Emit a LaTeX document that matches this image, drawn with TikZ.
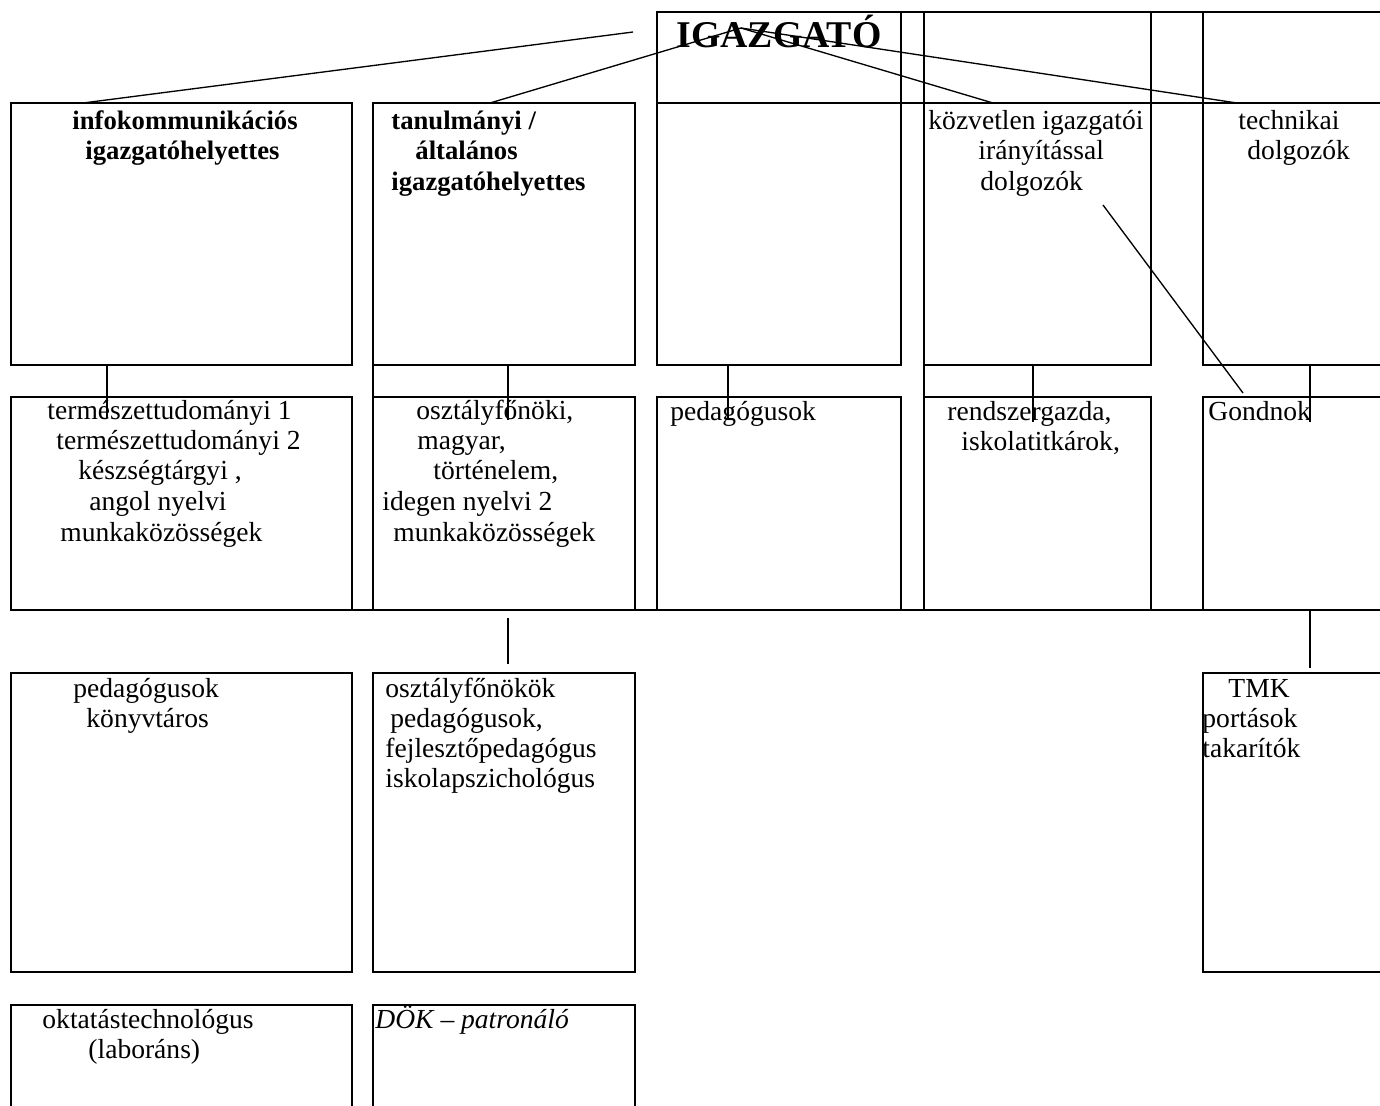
\documentclass[tikz,border=0pt]{standalone}
\usepackage{fontspec}
\setmainfont{Liberation Serif}
\usetikzlibrary{calc}

\tikzset{
    orgbox/.style={draw, line width=0.9pt, anchor=north west, inner sep=0pt, outer sep=0pt},
    orgline/.style={line width=0.9pt},
    link/.style={line width=0.6pt},
    txt/.style={anchor=base west, inner sep=0pt, font=\fontsize{12.4pt}{14pt}\selectfont},
    head/.style={anchor=base west, inner sep=0pt, font=\bfseries\fontsize{12pt}{14pt}\selectfont},
}

\begin{document}
\begin{tikzpicture}[x=0.45pt, y=-0.45pt]
    \useasboundingbox (0,0) rectangle (1380,1106);
    \clip (0,0) rectangle (1380,1106);

    % Top row (director cell and empty cells)
    \foreach \n/\l/\t/\r/\b in {boss/657/12/901/103, top2/901/12/924/103, top3/924/12/1151/103,
                                top4/1151/12/1203/103, top5/1203/12/1395/103}
        \node[orgbox, minimum width={(\r-\l)*0.45pt}, minimum height={(\b-\t)*0.45pt}] (\n) at (\l,\t) {};
    \node[anchor=base west, inner sep=0pt, font=\bfseries\fontsize{17pt}{20pt}\selectfont] (boss-t) at (676,47) {IGAZGATÓ};

    % Boxes of the lower levels
    \foreach \n/\l/\t/\r/\b in {b21/11/103/352/365, b22/373/103/635/365, b23/657/103/901/365,
                                b24/924/103/1151/365, b25/1203/103/1395/365,
                                b31/11/397/352/610, b32/373/397/635/610, b33/657/397/901/610,
                                b34/924/397/1151/610, b35/1203/397/1395/610,
                                b41/11/673/352/972, b42/373/673/635/972, b45/1203/673/1395/972,
                                b51/11/1005/352/1120, b52/373/1005/635/1120}
        \node[orgbox, minimum width={(\r-\l)*0.45pt}, minimum height={(\b-\t)*0.45pt}] (\n) at (\l,\t) {};

    % Table lines running through the gaps
    \draw[orgline] (b22.south west) -- (b32.north west);
    \draw[orgline] (b24.south west) -- (b34.north west);
    \draw[orgline] (b31.south west) -- (b35.south east);

    % Lines from the director
    \coordinate (hubL) at (633,32);
    \coordinate (hub) at (741,28);
    \draw[link] (hubL) -- ($(b21.north west)+(72,0)$);
    \draw[link] (hub) -- ($(b22.north west)+(117,0)$);
    \draw[link] (hub) -- ($(b24.north west)+(69,0)$);
    \draw[link] (hub) -- ($(b25.north west)+(34,0)$);

    % Links between the levels
    \draw[link] ($(b21.south west)+(96,0)$) -- ($(b31.north west)+(96,21)$);
    \draw[link] ($(b22.south west)+(135,0)$) -- ($(b32.north west)+(135,23)$);
    \draw[link] ($(b23.south west)+(71,0)$) -- ($(b33.north west)+(71,23)$);
    \draw[link] ($(b24.south west)+(109,0)$) -- ($(b34.north west)+(109,25)$);
    \draw[link] ($(b25.south west)+(107,0)$) -- ($(b35.north west)+(107,25)$);
    \draw[link] ($(b24.north west)+(179,102)$) -- ($(b35.north west)+(40,-4)$);
    \draw[link] ($(b32.south west)+(135,8)$) -- ($(b42.north west)+(135,-9)$);
    \draw[link] ($(b35.south west)+(107,0)$) -- ($(b45.north west)+(107,-5)$);

    % Second level
    \foreach \x/\y/\s [count=\i] in {72/129/infokommunikációs, 85/159/igazgatóhelyettes}
        \node[head] (t21-\i) at (\x,\y) {\s};
    \foreach \x/\y/\s [count=\i] in {391/129/{tanulmányi /}, 415/159/általános, 391/190/igazgatóhelyettes}
        \node[head] (t22-\i) at (\x,\y) {\s};
    \foreach \x/\y/\s [count=\i] in {928/129/közvetlen igazgatói, 978/159/irányítással, 980/190/dolgozók}
        \node[txt] (t24-\i) at (\x,\y) {\s};
    \foreach \x/\y/\s [count=\i] in {1238/129/technikai, 1247/159/dolgozók}
        \node[txt] (t25-\i) at (\x,\y) {\s};

    % Third level
    \foreach \x/\y/\s [count=\i] in {47/419/természettudományi 1, 56/449/természettudományi 2,
                                     78/479/{készségtárgyi ,}, 89/510/angol nyelvi, 60/541/munkaközösségek}
        \node[txt] (t31-\i) at (\x,\y) {\s};
    \foreach \x/\y/\s [count=\i] in {416/419/{osztályfőnöki,}, 417/449/{magyar,}, 433/479/{történelem,},
                                     382/510/idegen nyelvi 2, 393/541/munkaközösségek}
        \node[txt] (t32-\i) at (\x,\y) {\s};
    \node[txt] (t33-1) at (670,420) {pedagógusok};
    \foreach \x/\y/\s [count=\i] in {947/420/{rendszergazda,}, 961/450/{iskolatitkárok,}}
        \node[txt] (t34-\i) at (\x,\y) {\s};
    \node[txt] (t35-1) at (1208,420) {Gondnok};

    % Fourth level
    \foreach \x/\y/\s [count=\i] in {73/697/pedagógusok, 86/727/könyvtáros}
        \node[txt] (t41-\i) at (\x,\y) {\s};
    \foreach \x/\y/\s [count=\i] in {385/697/osztályfőnökök, 390/727/{pedagógusok,},
                                     385/757/fejlesztőpedagógus, 385/787/iskolapszichológus}
        \node[txt] (t42-\i) at (\x,\y) {\s};
    \foreach \x/\y/\s [count=\i] in {1228/697/TMK, 1202/727/portások, 1202/757/takarítók}
        \node[txt] (t45-\i) at (\x,\y) {\s};

    % Fifth level
    \foreach \x/\y/\s [count=\i] in {42/1028/oktatástechnológus, 88/1058/(laboráns)}
        \node[txt] (t51-\i) at (\x,\y) {\s};
    \node[txt, font=\itshape\fontsize{12.4pt}{14pt}\selectfont] (t52-1) at (375,1028) {DÖK – patronáló};
\end{tikzpicture}
\end{document}
